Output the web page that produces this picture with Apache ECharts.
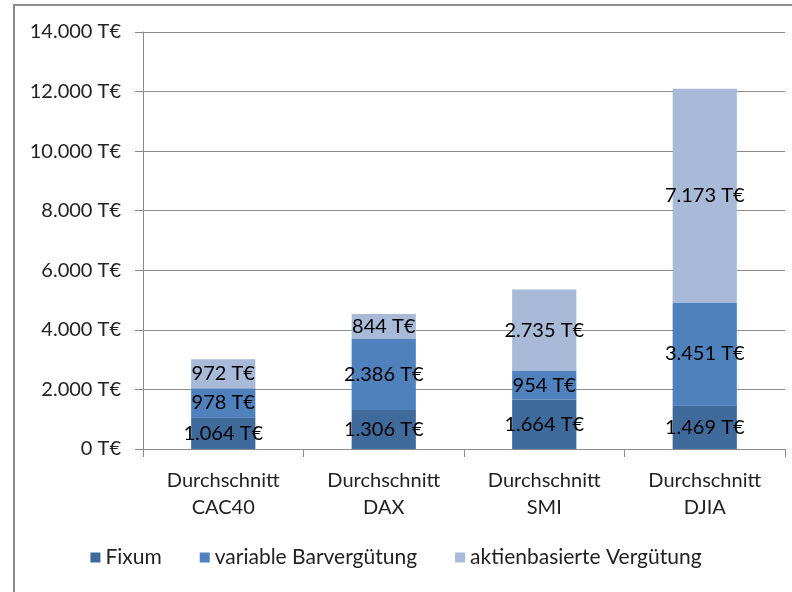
<!DOCTYPE html>
<html>
<head>
<meta charset="utf-8">
<script src="https://cdn.jsdelivr.net/npm/echarts@6/dist/echarts.min.js"></script>
<style>
  html, body { margin: 0; padding: 0; background: #fff; }
  #chart { width: 792px; height: 592px; }
</style>
</head>
<body>
<div id="chart"></div>
<script>
const categories = ["Durchschnitt\nCAC40", "Durchschnitt\nDAX", "Durchschnitt\nSMI", "Durchschnitt\nDJIA"];
const fixum = [1064, 1306, 1664, 1469];
const variableBar = [978, 2386, 954, 3451];
const aktien = [972, 844, 2735, 7173];
const yTicks = [0, 2000, 4000, 6000, 8000, 10000, 12000, 14000];

const FONT = "Lato, 'Open Sans', sans-serif";

function fmt(v) {
  const s = String(Math.round(v));
  return s.replace(/\B(?=(\d{3})+(?!\d))/g, ".") + " T€";
}

const chart = echarts.init(document.getElementById("chart"));

const labelStyle = {
  show: true,
  position: "inside",
  color: "#000",
  fontSize: 20,
  fontFamily: FONT,
  formatter: p => fmt(p.value)
};

function series(name, data, color) {
  return {
    name: name,
    type: "bar",
    stack: "total",
    data: data,
    barWidth: "40%",
    itemStyle: { color: color },
    label: labelStyle
  };
}

chart.setOption({
  animation: false,
  graphic: [{
    type: "rect",
    shape: { x: 14, y: 5, width: 800, height: 620 },
    style: { fill: "none", stroke: "#8c8c8c", lineWidth: 2 },
    silent: true
  }],
  grid: { left: 143, right: 7, top: 32, bottom: 143 },
  legend: {
    bottom: 19,
    left: "center",
    itemWidth: 10,
    itemHeight: 10,
    itemGap: 38,
    icon: "rect",
    textStyle: { fontSize: 21, fontFamily: FONT, color: "#222" },
    data: ["Fixum", "variable Barvergütung", "aktienbasierte Vergütung"]
  },
  xAxis: {
    type: "category",
    data: categories,
    axisLine: { lineStyle: { color: "#8c8c8c" } },
    axisTick: { show: true, length: 8, lineStyle: { color: "#8c8c8c" } },
    axisLabel: {
      color: "#222",
      fontSize: 20,
      fontFamily: FONT,
      lineHeight: 27,
      margin: 18
    }
  },
  yAxis: {
    type: "value",
    min: yTicks[0],
    max: yTicks[yTicks.length - 1],
    interval: 2000,
    axisLine: { show: true, lineStyle: { color: "#8c8c8c" } },
    axisTick: { show: true, length: 8, lineStyle: { color: "#8c8c8c" } },
    splitLine: { lineStyle: { color: "#8c8c8c" } },
    axisLabel: {
      color: "#222",
      fontSize: 20,
      fontFamily: FONT,
      margin: 22,
      formatter: v => fmt(v)
    }
  },
  series: [
    series("Fixum", fixum, "#3f6a9c"),
    series("variable Barvergütung", variableBar, "#4f81bd"),
    series("aktienbasierte Vergütung", aktien, "#a9bad8")
  ]
});
</script>
</body>
</html>
